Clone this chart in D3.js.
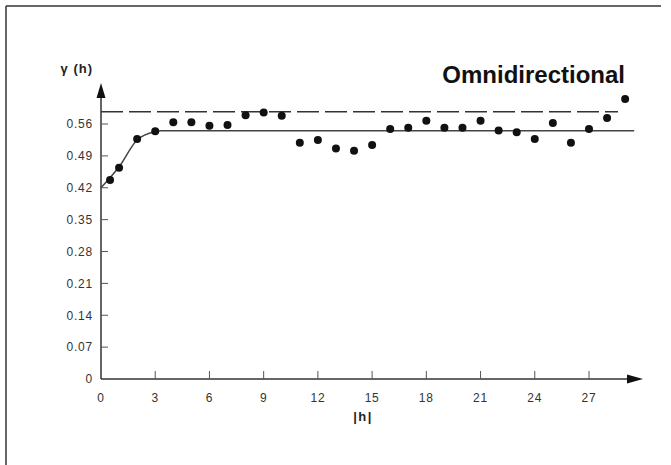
<!DOCTYPE html>
<html>
<head>
<meta charset="utf-8">
<script src="https://cdn.jsdelivr.net/npm/d3@7"></script>
<style>
  html, body { margin: 0; padding: 0; background: #fff; }
  svg text { font-family: "Liberation Sans", Arial, sans-serif; }
</style>
</head>
<body>
<div id="chart"></div>
<script>
// experimental semivariogram points (lag |h| -> gamma)
const lags = [0.5, 1, 2, 3, 4, 5, 6, 7, 8, 9, 10, 11, 12, 13, 14, 15, 16, 17, 18, 19, 20, 21, 22, 23, 24, 25, 26, 27, 28, 29];
const gammas = [0.437, 0.464, 0.527, 0.544, 0.564, 0.564, 0.556, 0.558, 0.579, 0.585, 0.578, 0.519, 0.525, 0.506, 0.501,
                0.514, 0.549, 0.552, 0.567, 0.552, 0.552, 0.567, 0.546, 0.542, 0.527, 0.562, 0.519, 0.549, 0.573, 0.615];

// fitted model
const modelH = [0, 1, 2, 3, 3.3, 29.5];
const modelG = [0.42, 0.466, 0.525, 0.543, 0.545, 0.545];

// sample variance (dashed)
const varianceLine = 0.587;

const yTicks = [0, 0.07, 0.14, 0.21, 0.28, 0.35, 0.42, 0.49, 0.56];
const xTicks = [0, 3, 6, 9, 12, 15, 18, 21, 24, 27];

const W = 671, H = 465;
const svg = d3.select('#chart').append('svg').attr('width', W).attr('height', H);

// frame: only top and left edges are drawn
svg.append('line').attr('x1', 6).attr('x2', 661).attr('y1', 6).attr('y2', 6)
  .attr('stroke', '#333').attr('stroke-width', 1.5);
svg.append('line').attr('x1', 6).attr('x2', 6).attr('y1', 6).attr('y2', H)
  .attr('stroke', '#333').attr('stroke-width', 1.5);

const x = d3.scaleLinear().domain([0, 27]).range([101, 589]);
const y = d3.scaleLinear().domain([0, 0.56]).range([379, 124]);

const axisColor = '#333';

// y axis line + arrow
svg.append('line').attr('x1', x(0)).attr('x2', x(0)).attr('y1', y(0)).attr('y2', 92)
  .attr('stroke', axisColor).attr('stroke-width', 1.5);
svg.append('path').attr('d', `M${x(0)},83 L${x(0) - 4.5},98 L${x(0) + 4.5},98 Z`).attr('fill', '#111');

// x axis line + arrow
svg.append('line').attr('x1', x(0)).attr('x2', 632).attr('y1', y(0)).attr('y2', y(0))
  .attr('stroke', axisColor).attr('stroke-width', 1.5);
svg.append('path').attr('d', `M643,${y(0)} L627,${y(0) - 4.5} L627,${y(0) + 4.5} Z`).attr('fill', '#111');

// y ticks (inward) and labels
const yg = svg.append('g');
yg.selectAll('line').data(yTicks.slice(1)).enter().append('line')
  .attr('x1', x(0)).attr('x2', x(0) + 7)
  .attr('y1', d => y(d)).attr('y2', d => y(d))
  .attr('stroke', '#555').attr('stroke-width', 1);
yg.selectAll('text').data(yTicks).enter().append('text')
  .attr('x', 93).attr('y', d => y(d)).attr('dy', '0.36em')
  .attr('text-anchor', 'end').attr('font-size', 12).attr('letter-spacing', '0.8px').attr('fill', '#333')
  .text(d => d === 0 ? '0' : d3.format('.2f')(d));

// x ticks (inward) and labels
const xg = svg.append('g');
xg.selectAll('line').data(xTicks.slice(1)).enter().append('line')
  .attr('x1', d => x(d)).attr('x2', d => x(d))
  .attr('y1', y(0)).attr('y2', y(0) - 8)
  .attr('stroke', '#555').attr('stroke-width', 1);
xg.selectAll('text').data(xTicks).enter().append('text')
  .attr('x', d => x(d)).attr('y', 402)
  .attr('text-anchor', 'middle').attr('font-size', 12).attr('letter-spacing', '0.8px').attr('fill', '#333')
  .text(d => d);

// axis titles
svg.append('text').attr('x', 363).attr('y', 421).attr('text-anchor', 'middle')
  .attr('font-size', 13).attr('font-weight', 'bold').attr('letter-spacing', '1.5px').attr('fill', '#222').text('|h|');
svg.append('text').attr('x', 93).attr('y', 73).attr('text-anchor', 'end')
  .attr('font-size', 13).attr('font-weight', 'bold').attr('letter-spacing', '1px').attr('fill', '#222').text('γ (h)');

// chart title
svg.append('text').attr('x', 625).attr('y', 83).attr('text-anchor', 'end')
  .attr('font-size', 24).attr('font-weight', 'bold').attr('fill', '#111').text('Omnidirectional');

// variance (dashed)
svg.append('line').attr('x1', x(0)).attr('x2', 618)
  .attr('y1', y(varianceLine)).attr('y2', y(varianceLine))
  .attr('stroke', '#333').attr('stroke-width', 1.5).attr('stroke-dasharray', '22,6');

// model curve
const model = modelH.map((h, i) => [h, modelG[i]]);
svg.append('path').datum(model)
  .attr('d', d3.line().x(d => x(d[0])).y(d => y(d[1])).curve(d3.curveMonotoneX))
  .attr('fill', 'none').attr('stroke', '#444').attr('stroke-width', 1.5);

// experimental points
svg.append('g').selectAll('circle').data(lags).enter().append('circle')
  .attr('cx', d => x(d)).attr('cy', (d, i) => y(gammas[i])).attr('r', 4)
  .attr('fill', '#111');
</script>
</body>
</html>
